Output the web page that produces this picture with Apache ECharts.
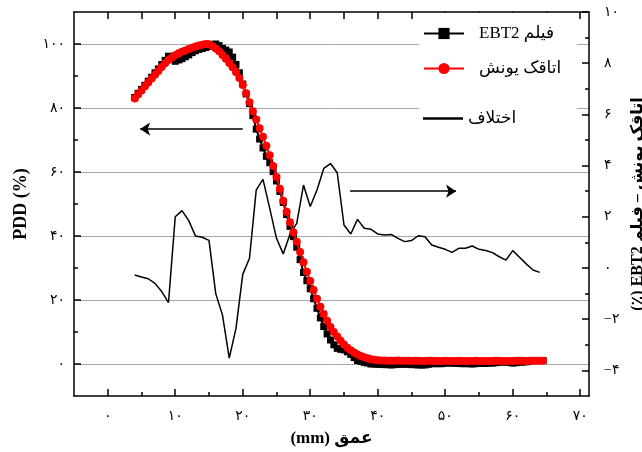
<!DOCTYPE html>
<html>
<head>
<meta charset="utf-8">
<script src="https://cdn.jsdelivr.net/npm/echarts@6/dist/echarts.min.js"></script>
<style>
  html, body { margin: 0; padding: 0; background: #fff; }
  #chart { width: 642px; height: 452px; }
</style>
</head>
<body>
<div id="chart"></div>
<script>
// Depth (mm) of the dense PDD profiles
const depth = [
  4, 4.5, 5, 5.5, 6, 6.5, 7, 7.5, 8, 8.5,
  9, 9.5, 10, 10.5, 11, 11.5, 12, 12.5, 13, 13.5,
  14, 14.5, 15, 15.5, 16, 16.5, 17, 17.5, 18, 18.5,
  19, 19.5, 20, 20.5, 21, 21.5, 22, 22.5, 23, 23.5,
  24, 24.5, 25, 25.5, 26, 26.5, 27, 27.5, 28, 28.5,
  29, 29.5, 30, 30.5, 31, 31.5, 32, 32.5, 33, 33.5,
  34, 34.5, 35, 35.5, 36, 36.5, 37, 37.5, 38, 38.5,
  39, 39.5, 40, 40.5, 41, 41.5, 42, 42.5, 43, 43.5,
  44, 44.5, 45, 45.5, 46, 46.5, 47, 47.5, 48, 48.5,
  49, 49.5, 50, 50.5, 51, 51.5, 52, 52.5, 53, 53.5,
  54, 54.5, 55, 55.5, 56, 56.5, 57, 57.5, 58, 58.5,
  59, 59.5, 60, 60.5, 61, 61.5, 62, 62.5, 63, 63.5,
  64, 64.5
];

// Ionisation chamber PDD (%)
const chamberPdd = [
  83.0, 84.3, 85.5, 86.8, 88.0, 89.2, 90.4, 91.6, 92.8, 94.0,
  95.0, 95.8, 96.5, 97.1, 97.6, 98.0, 98.4, 98.8, 99.2, 99.5,
  99.8, 100.0, 99.9, 99.4, 98.6, 97.7, 96.6, 95.4, 94.1, 92.7,
  91.2, 89.4, 87.2, 84.6, 81.8, 79.0, 76.4, 73.7, 71.0, 68.2,
  65.2, 61.9, 58.4, 54.8, 51.0, 47.6, 44.3, 41.2, 38.2, 35.0,
  31.8, 28.8, 25.9, 23.1, 20.4, 17.9, 15.6, 13.5, 11.6, 10.0,
  8.6, 7.3, 6.1, 5.1, 4.3, 3.6, 3.0, 2.5, 2.1, 1.8,
  1.5, 1.3, 1.2, 1.1, 1.1, 1.0, 1.0, 1.0, 1.1, 1.0,
  1.0, 1.0, 0.9, 1.0, 1.0, 0.9, 0.9, 1.0, 1.0, 0.9,
  0.9, 0.9, 1.0, 0.9, 0.9, 0.9, 1.0, 0.9, 0.9, 0.9,
  0.9, 1.0, 0.9, 0.9, 0.9, 0.9, 0.9, 1.0, 1.0, 0.9,
  0.9, 0.9, 0.9, 1.0, 1.0, 1.0, 0.9, 1.0, 1.0, 1.0,
  1.0, 1.0
];

// EBT2 film PDD (%)
const filmPdd = [
  83.3, 84.6, 85.8, 87.1, 88.4, 89.6, 91.0, 92.2, 93.6, 94.9,
  96.2, 95.6, 94.6, 95.0, 95.4, 96.0, 96.6, 97.3, 97.9, 98.3,
  98.6, 98.9, 99.2, 99.8, 100.0, 99.5, 98.6, 98.1, 97.5, 95.9,
  93.6, 91.0, 87.5, 84.4, 81.4, 77.6, 73.4, 70.3, 67.5, 64.9,
  62.9, 60.1, 57.2, 53.9, 50.5, 46.7, 43.0, 39.8, 36.5, 32.6,
  28.6, 26.0, 23.5, 20.4, 17.4, 14.4, 11.7, 9.4, 7.5, 6.0,
  4.9, 4.6, 4.4, 3.8, 3.0, 2.0, 1.1, 0.8, 0.5, 0.3,
  0.0, 0.0, -0.1, -0.1, -0.2, -0.2, -0.3, -0.2, -0.1, -0.1,
  0.0, -0.1, -0.2, -0.2, -0.3, -0.3, -0.3, -0.1, 0.1, 0.1,
  0.1, 0.1, 0.3, 0.3, 0.3, 0.2, 0.2, 0.1, 0.1, 0.1,
  0.0, 0.1, 0.2, 0.2, 0.2, 0.3, 0.3, 0.4, 0.6, 0.6,
  0.6, 0.5, 0.3, 0.4, 0.6, 0.6, 0.7, 0.9, 1.1, 1.1,
  1.1, 1.1
];

// Chamber minus film difference (%), right axis
const diffDepth = [
  4, 5, 6, 7, 8, 9, 10, 11, 12, 13,
  14, 15, 16, 17, 18, 19, 20, 21, 22, 23,
  24, 25, 26, 27, 28, 29, 30, 31, 32, 33,
  34, 35, 36, 37, 38, 39, 40, 41, 42, 43,
  44, 45, 46, 47, 48, 49, 50, 51, 52, 53,
  54, 55, 56, 57, 58, 59, 60, 61, 62, 63,
  64
];
const diffValues = [
  -0.27, -0.35, -0.42, -0.6, -0.92, -1.35, 2.0, 2.24, 1.85, 1.25,
  1.2, 1.08, -1.0, -1.84, -3.52, -2.36, -0.25, 0.38, 3.05, 3.46,
  2.33, 1.16, 0.55, 1.33, 1.74, 3.24, 2.4, 3.05, 3.89, 4.08,
  3.72, 1.68, 1.33, 1.9, 1.55, 1.51, 1.33, 1.29, 1.31, 1.16,
  1.03, 1.07, 1.26, 1.22, 0.9, 0.81, 0.73, 0.61, 0.77, 0.77,
  0.86, 0.73, 0.68, 0.6, 0.44, 0.31, 0.68, 0.42, 0.16, -0.08,
  -0.17
];

// Tick positions
const xTicks = [0, 10, 20, 30, 40, 50, 60, 70];
const xMinorTicks = [5, 15, 25, 35, 45, 55, 65];
const xTopTicks = [0, 5, 10, 15, 20, 25, 30, 35, 40, 45, 50, 55, 60, 65, 70];
const pddTicks = [0, 20, 40, 60, 80, 100];
const pddMinorTicks = [10, 30, 50, 70, 90];
const diffTicks = [-4, -2, 0, 2, 4, 6, 8, 10];
const diffMinorTicks = [-3, -1, 1, 3, 5, 7, 9];

// Axis-direction arrows: [x, y] start and end in data units
const pddArrow = [[20.0, 73.4], [4.8, 73.4]];
const diffArrow = [[35.9, 3.0], [51.6, 3.0]];

// Right-to-left embedding for Persian strings mixed with Latin text
const rtl = s => '\u202B' + s + '\u202C';
const FA_DIGITS = '۰۱۲۳۴۵۶۷۸۹';
const fa = v => String(v).replace(/\d/g, d => FA_DIGITS[d]).replace('-', '−');

const filmName = rtl('فیلم EBT2');
const chamberName = 'اتاقک یونش';
const diffName = 'اختلاف';
const xTitle = rtl('عمق (mm)');
const rightTitle = rtl('اتاقک یونش – فیلم EBT2 (٪)');

const FONT = "'Liberation Serif', 'DejaVu Sans', serif";
const black = '#000';
const red = '#ff0000';

const pairs = (xs, ys) => xs.map((x, i) => [x, ys[i]]);

const chart = echarts.init(document.getElementById('chart'), null, { renderer: 'canvas' });

const X_MIN = -5, X_MAX = 71.3;
const frameLine = { show: true, onZero: false, lineStyle: { color: black, width: 1.5 } };
const noLine = { show: false, onZero: false };
const tickStyle = { color: black, width: 1.5 };
const labelStyle = { color: black, fontSize: 14, fontFamily: FONT };

chart.setOption({
  animation: false,
  backgroundColor: '#fff',
  grid: {
    left: 74, top: 12, width: 515, height: 384,
    containLabel: false, outerBoundsMode: 'none'
  },
  xAxis: [
    {
      type: 'value', min: X_MIN, max: X_MAX, position: 'bottom',
      axisLine: frameLine,
      axisTick: { inside: true, length: 7, customValues: xTicks, lineStyle: tickStyle },
      axisLabel: Object.assign({ customValues: xTicks, formatter: fa, margin: 13 }, labelStyle),
      splitLine: { show: false },
      name: xTitle, nameLocation: 'middle', nameGap: 34,
      nameTextStyle: { color: black, fontSize: 17, fontWeight: 'bold', fontFamily: FONT }
    },
    {
      type: 'value', min: X_MIN, max: X_MAX, position: 'bottom',
      axisLine: noLine,
      axisTick: { inside: true, length: 4, customValues: xMinorTicks, lineStyle: tickStyle },
      axisLabel: { show: false }, splitLine: { show: false }
    },
    {
      type: 'value', min: X_MIN, max: X_MAX, position: 'top',
      axisLine: frameLine,
      axisTick: { inside: true, length: 7, customValues: xTopTicks, lineStyle: tickStyle },
      axisLabel: { show: false }, splitLine: { show: false }
    }
  ],
  yAxis: [
    {
      type: 'value', min: -10, max: 110, position: 'left',
      axisLine: frameLine,
      axisTick: { inside: true, length: 7, customValues: pddTicks, lineStyle: tickStyle },
      axisLabel: Object.assign({ customValues: pddTicks, formatter: fa, margin: 9 }, labelStyle),
      splitLine: { show: true, lineStyle: { color: '#a8a8a8', width: 1 } },
      name: 'PDD (%)', nameLocation: 'middle', nameGap: 44, nameRotate: 90,
      nameTextStyle: { color: black, fontSize: 18, fontWeight: 'bold', fontFamily: FONT }
    },
    {
      type: 'value', min: -10, max: 110, position: 'left',
      axisLine: noLine,
      axisTick: { inside: true, length: 4, customValues: pddMinorTicks, lineStyle: tickStyle },
      axisLabel: { show: false }, splitLine: { show: false }
    },
    {
      type: 'value', min: -5, max: 10, position: 'right',
      axisLine: frameLine,
      axisTick: { inside: true, length: 7, customValues: diffTicks, lineStyle: tickStyle },
      axisLabel: Object.assign({ customValues: diffTicks, formatter: fa, margin: 15 }, labelStyle),
      splitLine: { show: false },
      name: rightTitle, nameLocation: 'middle', nameGap: 34, nameRotate: 90,
      nameTextStyle: { color: black, fontSize: 16, fontWeight: 'bold', fontFamily: FONT }
    },
    {
      type: 'value', min: -5, max: 10, position: 'right',
      axisLine: noLine,
      axisTick: { inside: true, length: 4, customValues: diffMinorTicks, lineStyle: tickStyle },
      axisLabel: { show: false }, splitLine: { show: false }
    }
  ],
  legend: [
    {
      data: [filmName], left: 423, top: 25, padding: 0, itemWidth: 40, itemHeight: 14,
      textStyle: { color: black, fontSize: 17, fontFamily: FONT, padding: [0, 0, 0, 10] }
    },
    {
      data: [chamberName], left: 423, top: 60, padding: 0, itemWidth: 40, itemHeight: 14,
      textStyle: { color: black, fontSize: 17, fontFamily: FONT, padding: [0, 0, 0, 10] }
    },
    {
      data: [{ name: diffName, icon: 'rect', itemStyle: { color: black } }],
      left: 423, top: 110, padding: 0, itemWidth: 40, itemHeight: 2.5,
      textStyle: { color: black, fontSize: 17, fontFamily: FONT }
    }
  ],
  graphic: [
    {
      type: 'rect', left: 419, top: 13, z: 1, silent: true,
      shape: { width: 158, height: 125 }, style: { fill: '#fff' }
    }
  ],
  series: [
    {
      name: diffName, type: 'line', xAxisIndex: 0, yAxisIndex: 2,
      data: pairs(diffDepth, diffValues),
      symbol: 'none', lineStyle: { color: black, width: 1.5 }, itemStyle: { color: black },
      z: 2, silent: true,
      markLine: {
        silent: true, symbol: ['none', 'arrow'], symbolSize: 10, animation: false,
        label: { show: false }, lineStyle: { color: black, width: 1.5, type: 'solid' },
        data: [[{ coord: diffArrow[0] }, { coord: diffArrow[1] }]]
      }
    },
    {
      name: filmName, type: 'line', xAxisIndex: 0, yAxisIndex: 0,
      data: pairs(depth, filmPdd),
      symbol: 'rect', symbolSize: 7, showAllSymbol: true,
      lineStyle: { color: black, width: 2 }, itemStyle: { color: black },
      z: 3, silent: true,
      markLine: {
        silent: true, symbol: ['none', 'arrow'], symbolSize: 10, animation: false,
        label: { show: false }, lineStyle: { color: black, width: 1.5, type: 'solid' },
        data: [[{ coord: pddArrow[0] }, { coord: pddArrow[1] }]]
      }
    },
    {
      name: chamberName, type: 'line', xAxisIndex: 0, yAxisIndex: 0,
      data: pairs(depth, chamberPdd),
      symbol: 'circle', symbolSize: 8, showAllSymbol: true,
      lineStyle: { color: red, width: 2 }, itemStyle: { color: red },
      z: 4, silent: true
    }
  ]
});
</script>
</body>
</html>
